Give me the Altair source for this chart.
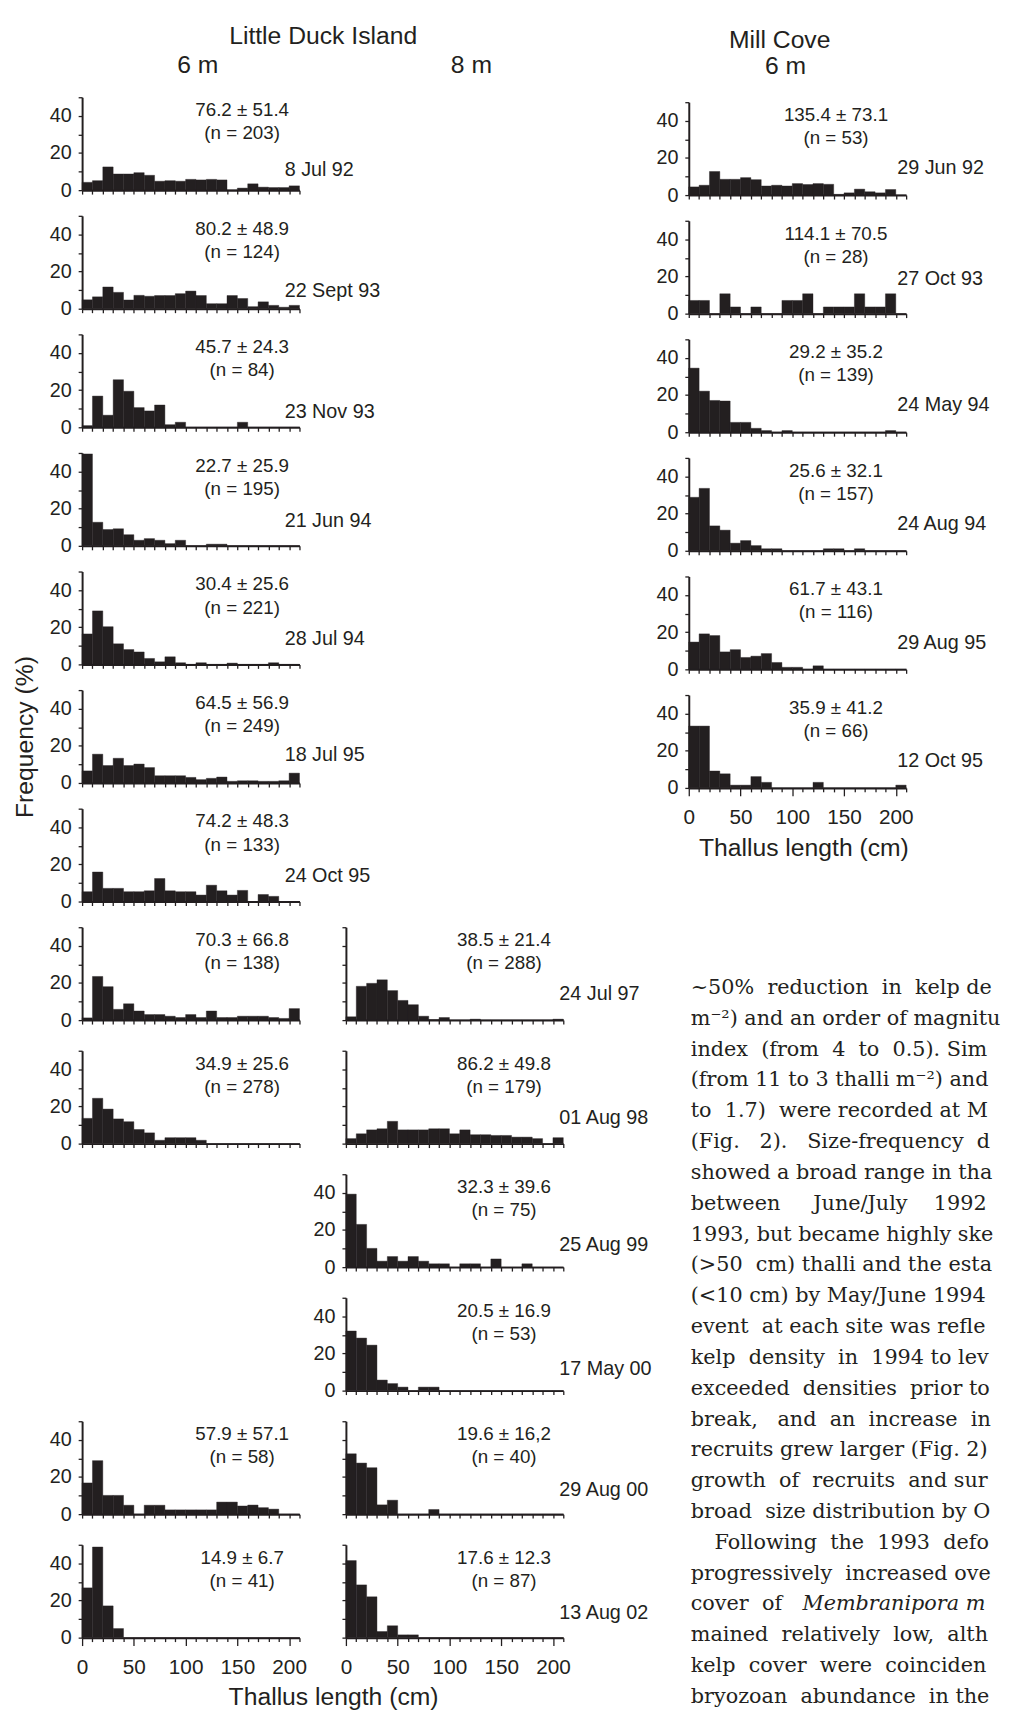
import altair as alt
import pandas as pd

INK = "#231f20"
SANS = "Liberation Sans"
SERIF = "DejaVu Serif"

# ---------------- data ----------------
bin_starts = list(range(0, 210, 10))            # 10-cm size classes
x_tick_values = list(range(0, 211, 10))
y_tick_values = [0, 10, 20, 30, 40, 50]

row_dates = ["8 Jul 92", "22 Sept 93", "23 Nov 93", "21 Jun 94", "28 Jul 94",
             "18 Jul 95", "24 Oct 95", "24 Jul 97", "01 Aug 98", "25 Aug 99",
             "17 May 00", "29 Aug 00", "13 Aug 02"]

# Little Duck Island 6 m (rows 1-9, 12, 13)
ldi6_rows = [0, 1, 2, 3, 4, 5, 6, 7, 8, 11, 12]
ldi6_stats = ["76.2 ± 51.4", "80.2 ± 48.9", "45.7 ± 24.3", "22.7 ± 25.9", "30.4 ± 25.6",
              "64.5 ± 56.9", "74.2 ± 48.3", "70.3 ± 66.8", "34.9 ± 25.6", "57.9 ± 57.1",
              "14.9 ± 6.7"]
ldi6_n = [203, 124, 84, 195, 221, 249, 133, 138, 278, 58, 41]
ldi6_jul92 = [4.2, 5.1, 12.5, 8.7, 8.7, 9.4, 8.0, 4.8, 5.1, 4.8, 5.8, 5.5, 5.8, 5.5, 0.2, 1.1, 3.4, 1.6, 1.4, 1.4, 2.3]
ldi6_sep93 = [4.8, 6.4, 11.7, 8.8, 4.7, 7.2, 6.7, 7.1, 7.1, 8.1, 9.5, 7.1, 2.7, 2.7, 7.1, 5.5, 1.1, 3.7, 1.8, 0.8, 1.8]
ldi6_nov93 = [0.9, 16.8, 6.5, 25.6, 19.4, 10.6, 8.8, 12.0, 1.4, 2.7, 0, 0, 0, 0, 0, 2.7, 0, 0, 0, 0, 0]
ldi6_jun94 = [49.5, 12.7, 8.8, 9.2, 6.0, 3.0, 3.9, 3.0, 1.2, 3.0, 0, 0, 0.9, 0.9, 0, 0, 0, 0, 0, 0, 0]
ldi6_jul94 = [16.4, 28.8, 20.3, 11.1, 8.0, 6.7, 3.2, 1.4, 4.1, 0.9, 0, 0.9, 0, 0, 0.7, 0, 0, 0, 0.9, 0, 0]
ldi6_jul95 = [6.5, 15.5, 9.4, 13.3, 9.4, 10.2, 8.3, 3.9, 3.9, 3.9, 3.0, 1.8, 2.5, 3.2, 0.9, 1.2, 1.2, 0.9, 0.9, 1.2, 5.3]
ldi6_oct95 = [5.3, 15.9, 7.1, 7.1, 5.3, 5.3, 5.8, 12.4, 5.8, 5.3, 5.3, 3.5, 8.8, 5.8, 3.5, 6.0, 0, 3.8, 2.8, 0, 0]
ldi6_jul97 = [1.2, 23.5, 18.0, 5.8, 8.8, 4.9, 3.0, 3.0, 2.1, 1.4, 3.0, 1.4, 4.9, 1.4, 1.4, 2.1, 2.1, 2.1, 1.4, 0.9, 6.2]
ldi6_aug98 = [13.6, 24.4, 18.6, 13.3, 11.8, 7.6, 5.8, 1.8, 3.2, 3.2, 3.2, 1.8, 0, 0, 0, 0, 0, 0, 0, 0, 0]
ldi6_aug00 = [16.8, 28.8, 10.1, 10.1, 4.8, 0, 4.8, 4.8, 2.3, 2.3, 2.3, 2.3, 2.3, 6.5, 6.5, 4.4, 4.9, 3.5, 2.7, 0, 0]
ldi6_aug02 = [26.8, 48.8, 17.1, 4.9, 0, 0, 0, 0, 0, 0, 0, 0, 0, 0, 0, 0, 0, 0, 0, 0, 0]
ldi6_freq = [ldi6_jul92, ldi6_sep93, ldi6_nov93, ldi6_jun94, ldi6_jul94, ldi6_jul95,
             ldi6_oct95, ldi6_jul97, ldi6_aug98, ldi6_aug00, ldi6_aug02]

# Little Duck Island 8 m (rows 8-13)
ldi8_rows = [7, 8, 9, 10, 11, 12]
ldi8_stats = ["38.5 ± 21.4", "86.2 ± 49.8", "32.3 ± 39.6", "20.5 ± 16.9", "19.6 ± 16,2", "17.6 ± 12.3"]
ldi8_n = [288, 179, 75, 53, 40, 87]
ldi8_jul97 = [1.8, 18.2, 19.8, 21.7, 15.9, 10.6, 8.3, 2.1, 0.3, 1.4, 0, 0, 0.5, 0, 0, 0, 0, 0, 0, 0, 0.5]
ldi8_aug98 = [2.7, 5.3, 7.4, 8.0, 12.0, 7.4, 7.4, 7.4, 8.0, 8.0, 5.3, 7.4, 4.8, 4.8, 4.4, 4.4, 3.5, 3.5, 2.7, 0, 3.2]
ldi8_aug99 = [39.3, 23.0, 10.1, 3.2, 5.7, 3.2, 5.7, 3.2, 1.8, 1.8, 0, 1.8, 1.8, 0, 4.4, 0, 0, 1.8, 0, 0, 0]
ldi8_may00 = [32.1, 28.3, 24.5, 5.7, 3.8, 1.9, 0, 1.9, 1.9, 0, 0, 0, 0, 0, 0, 0, 0, 0, 0, 0, 0]
ldi8_aug00 = [32.5, 27.5, 25.0, 5.0, 7.5, 0, 0, 0, 2.5, 0, 0, 0, 0, 0, 0, 0, 0, 0, 0, 0, 0]
ldi8_aug02 = [41.5, 28.4, 22.0, 3.3, 6.4, 1.5, 1.5, 0, 0, 0, 0, 0, 0, 0, 0, 0, 0, 0, 0, 0, 0]
ldi8_freq = [ldi8_jul97, ldi8_aug98, ldi8_aug99, ldi8_may00, ldi8_aug00, ldi8_aug02]

# Mill Cove 6 m
mc_dates = ["29 Jun 92", "27 Oct 93", "24 May 94", "24 Aug 94", "29 Aug 95", "12 Oct 95"]
mc_stats = ["135.4 ± 73.1", "114.1 ± 70.5", "29.2 ± 35.2", "25.6 ± 32.1", "61.7 ± 43.1", "35.9 ± 41.2"]
mc_n = [53, 28, 139, 157, 116, 66]
mc_jun92 = [4.4, 5.3, 12.7, 8.5, 8.5, 9.4, 8.3, 4.9, 5.3, 4.9, 6.2, 5.7, 6.2, 5.8, 0.4, 1.2, 3.2, 1.8, 1.2, 3.0, 0]
mc_oct93 = [7.1, 7.1, 0, 10.7, 3.6, 0, 3.6, 0, 0, 7.1, 7.1, 10.7, 0, 3.6, 3.6, 3.6, 10.7, 3.6, 3.6, 10.7, 0]
mc_may94 = [34.5, 22.1, 17.1, 16.8, 5.3, 5.3, 2.1, 0.9, 0, 0.9, 0, 0, 0, 0, 0, 0, 0, 0, 0, 0.9, 0]
mc_aug94 = [28.8, 33.6, 13.4, 11.1, 4.1, 5.5, 2.8, 1.1, 1.1, 0, 0, 0, 0, 1.1, 1.1, 0, 1.1, 0, 0, 0, 0]
mc_aug95 = [14.7, 19.1, 18.2, 9.4, 10.6, 6.4, 7.1, 8.5, 3.7, 1.1, 1.1, 0, 1.9, 0, 0, 0, 0, 0, 0, 0, 0]
mc_oct95 = [33.3, 33.3, 9.1, 7.6, 1.5, 1.5, 6.1, 3.0, 0, 0, 0, 0, 3.0, 0, 0, 0, 0, 0, 0, 0, 1.5]
mc_freq = [mc_jun92, mc_oct93, mc_may94, mc_aug94, mc_aug95, mc_oct95]

# Column headings / axis titles
site_ldi = "Little Duck Island"
site_mc = "Mill Cove"
depth_6 = "6 m"
depth_8 = "8 m"
x_title = "Thallus length (cm)"
y_title = "Frequency (%)"

# Running text at the lower right (cut off by the page edge)
body_lines = [
    "~50% reduction in kelp de",
    "m\u207b\u00b2) and an order of magnitu",
    "index (from 4 to 0.5). Sim",
    "(from 11 to 3 thalli m\u207b\u00b2) and",
    "to 1.7) were recorded at M",
    "(Fig. 2). Size-frequency d",
    "showed a broad range in tha",
    "between June/July 1992",
    "1993, but became highly ske",
    "(>50 cm) thalli and the esta",
    "(<10 cm) by May/June 1994",
    "event at each site was refle",
    "kelp density in 1994 to lev",
    "exceeded densities prior to",
    "break, and an increase in",
    "recruits grew larger (Fig. 2)",
    "growth of recruits and sur",
    "broad size distribution by O",
    "Following the 1993 defo",
    "progressively increased ove",
    "cover of",
    "mained relatively low, alth",
    "kelp cover were coinciden",
    "bryozoan abundance in the",
]
indented_line = 18
italic_line = 20
italic_text = "Membranipora m"

# ---------------- layout constants ----------------
W, H = 220, 94
HEAD_H = 78.3
COL_W = [220, 47, 220, 126.7, 220]
GAPS = [25.2] * 6 + [26] + [30.5] * 5     # gap after each of the 13 rows
MC_SHIFT = 5                                # Mill Cove panels sit slightly lower
TEXT_W = 312
LINE0, LINE_STEP = 181.5, 31.2
BODY_SIZE = 21
JUSTIFY_W = 302                             # justified measure visible before page edge
# height (px above the zero line) of the date label in each panel
ldi6_date_lift = [20, 18, 15, 25, 26, 28, 26]
ldi8_date_lift = [26, 26, 22, 22, 24, 25]
mc_date_lift = [27, 35, 27, 27, 27, 27]

# approximate advance widths (em) of DejaVu Serif, used to justify the lines
_EM = {" ": 0.318, "a": 0.596, "b": 0.640, "c": 0.560, "d": 0.640, "e": 0.592,
       "f": 0.370, "g": 0.640, "h": 0.644, "i": 0.320, "j": 0.320, "k": 0.605,
       "l": 0.320, "m": 0.948, "n": 0.644, "o": 0.602, "p": 0.640, "q": 0.640,
       "r": 0.478, "s": 0.513, "t": 0.402, "u": 0.644, "v": 0.565, "w": 0.856,
       "x": 0.564, "y": 0.565, "z": 0.527, "(": 0.390, ")": 0.390, ".": 0.318,
       ",": 0.318, "%": 0.950, "~": 0.838, "-": 0.338, "/": 0.337, "<": 0.838,
       ">": 0.838, "\u207b": 0.42, "\u00b2": 0.40, "F": 0.703, "S": 0.685,
       "J": 0.472, "M": 0.995, "O": 0.787}


def justify(s, target, size):
    words = s.split(" ")
    gaps = len(words) - 1
    if gaps <= 0:
        return s
    width = sum(_EM.get(ch, 0.636 if ch.isdigit() else 0.6) for ch in s) * size
    n = max(0, int(round((target - width) / (0.318 * size))))
    out = words[0]
    for gi, w in enumerate(words[1:]):
        k = n // gaps + (1 if gi < n % gaps else 0)
        out += " " + "\u00a0" * k + w
    return out


def label(text, x, y, align="center", size=19, font=SANS, baseline="middle"):
    return alt.Chart(pd.DataFrame({"t": [text]})).mark_text(
        align=align, baseline=baseline, font=font, fontSize=size, color=INK
    ).encode(x=alt.value(x), y=alt.value(y), text="t:N")


def hist_panel(freqs, stat, n, date=None, stat_x=162, date_x=205, date_above=25,
               ylabels=True, xlabels=False, ytitle=None, xtitle=None, xtitle_x=None,
               shift=0):
    df = pd.DataFrame({"start": bin_starts,
                       "end": [b + 10 for b in bin_starts],
                       "freq": freqs})
    xax = dict(values=x_tick_values, grid=False, domainColor=INK, domainWidth=2,
               tickColor=INK, tickWidth=1.3, labelFlush=False, labelOverlap=False,
               title=None, offset=shift)
    if xlabels:
        xax.update(labelExpr="datum.value % 50 == 0 ? datum.label : ''",
                   tickSize={"condition": {"test": "datum.value % 50 == 0", "value": 8},
                             "value": 4},
                   labelFont=SANS, labelFontSize=21, labelColor=INK, labelPadding=11)
    else:
        xax.update(labels=False, tickSize=4)
    if xtitle:
        xax.update(title=xtitle, titleX=xtitle_x, titleAlign="center", titleFont=SANS,
                   titleFontSize=25, titleFontWeight="normal", titleColor=INK,
                   titlePadding=8)
    yax = dict(values=y_tick_values, grid=False, domainColor=INK, domainWidth=2,
               tickColor=INK, tickWidth=1.3, tickSize=4, labelPadding=7,
               labelOverlap=False, labelFlush=False, title=None)
    if ylabels:
        yax.update(labelExpr="datum.value % 20 == 0 ? datum.label : ''",
                   labelFont=SANS, labelFontSize=20, labelColor=INK)
    else:
        yax.update(labels=False)
    if ytitle:
        yax.update(title=ytitle, titleFont=SANS, titleFontSize=25,
                   titleFontWeight="normal", titleColor=INK, titlePadding=12)

    bars = alt.Chart(df).mark_rect(color=INK, stroke=INK, strokeWidth=0.4).encode(
        x=alt.X("start:Q", scale=alt.Scale(domain=[0, 210], nice=False),
                axis=alt.Axis(**xax)),
        x2="end:Q",
        y=alt.Y("freq:Q",
                scale=alt.Scale(domain=[0, 50], nice=False, range=[H + shift, shift]),
                axis=alt.Axis(**yax)),
        y2=alt.datum(0),
    )
    layers = [bars,
              label(stat, stat_x, 13 + shift),
              label(f"(n = {n})", stat_x, 36.5 + shift)]
    if date:
        layers.append(label(date, date_x, H + shift - date_above, align="left", size=20))
    return alt.layer(*layers).properties(width=W, height=H)


def spacer(w, h, texts=()):
    base = alt.Chart(pd.DataFrame({"v": [0]})).mark_point(opacity=0, size=1).encode(
        x=alt.value(0), y=alt.value(0))
    layers = [base] + [label(t, x, y, size=25, baseline="alphabetic") for (t, x, y) in texts]
    return alt.layer(*layers).properties(width=w, height=h)


# ---------------- panels ----------------
p6 = {}
for k, r in enumerate(ldi6_rows):
    p6[r] = hist_panel(
        ldi6_freq[k], ldi6_stats[k], ldi6_n[k],
        date=row_dates[r] if r < 7 else None,
        date_above=ldi6_date_lift[r] if r < 7 else 25,
        stat_x=162, date_x=205,
        ytitle=y_title if r == 5 else None,
        xlabels=(r == 12),
        xtitle=x_title if r == 12 else None,
        xtitle_x=254,
    )

p8 = {}
for k, r in enumerate(ldi8_rows):
    p8[r] = hist_panel(
        ldi8_freq[k], ldi8_stats[k], ldi8_n[k], date=row_dates[r],
        date_above=ldi8_date_lift[k],
        stat_x=160, date_x=216,
        ylabels=(r in (9, 10)),
        xlabels=(r == 12),
    )

pm = {}
for k in range(6):
    pm[k] = hist_panel(
        mc_freq[k], mc_stats[k], mc_n[k], date=mc_dates[k],
        stat_x=149, date_x=211, date_above=mc_date_lift[k],
        xlabels=(k == 5),
        xtitle=x_title if k == 5 else None,
        xtitle_x=116,
        shift=MC_SHIFT,
    )

# body text view (justified to the visible measure)
ytext = alt.Scale(domain=[0, len(body_lines) - 1],
                  range=[LINE0, LINE0 + (len(body_lines) - 1) * LINE_STEP])
plain_idx = [i for i in range(len(body_lines)) if i not in (indented_line, italic_line)]
plain_df = pd.DataFrame({"i": plain_idx,
                         "t": [justify(body_lines[i], JUSTIFY_W, BODY_SIZE) for i in plain_idx]})
text_plain = alt.Chart(plain_df).mark_text(
    align="left", baseline="middle", font=SERIF, fontSize=BODY_SIZE, color=INK
).encode(x=alt.value(2), y=alt.Y("i:Q", scale=ytext, axis=None), text="t:N")
text_indent = alt.Chart(pd.DataFrame({
    "i": [indented_line],
    "t": [justify(body_lines[indented_line], JUSTIFY_W - 24, BODY_SIZE)]})).mark_text(
    align="left", baseline="middle", font=SERIF, fontSize=BODY_SIZE, color=INK
).encode(x=alt.value(26), y=alt.Y("i:Q", scale=ytext, axis=None), text="t:N")
text_cover = alt.Chart(pd.DataFrame({
    "i": [italic_line], "t": [body_lines[italic_line].replace(" ", " \u00a0")]})).mark_text(
    align="left", baseline="middle", font=SERIF, fontSize=BODY_SIZE, color=INK
).encode(x=alt.value(2), y=alt.Y("i:Q", scale=ytext, axis=None), text="t:N")
text_italic = alt.Chart(pd.DataFrame({"i": [italic_line], "t": [italic_text]})).mark_text(
    align="left", baseline="middle", font=SERIF, fontSize=BODY_SIZE, fontStyle="italic",
    color=INK
).encode(x=alt.value(115), y=alt.Y("i:Q", scale=ytext, axis=None), text="t:N")
text_view = alt.layer(text_plain, text_indent, text_cover, text_italic).properties(
    width=TEXT_W, height=H)

# ---------------- grid (single level, flush) ----------------
cells = [
    spacer(COL_W[0], HEAD_H, texts=[(site_ldi, 244, 25), (depth_6, 117, 54)]),
    spacer(COL_W[1], HEAD_H),
    spacer(COL_W[2], HEAD_H, texts=[(depth_8, 127, 54)]),
    spacer(COL_W[3], HEAD_H),
    spacer(COL_W[4], HEAD_H, texts=[(site_mc, 92, 28.7), (depth_6, 98, 55.3)]),
]
for r in range(13):
    cells.append(p6[r] if r in p6 else spacer(COL_W[0], H))
    cells.append(spacer(COL_W[1], H))
    cells.append(p8[r] if r in p8 else spacer(COL_W[2], H))
    cells.append(spacer(COL_W[3], H))
    if r < 6:
        cells.append(pm[r])
    elif r == 6:
        cells.append(text_view)
    else:
        cells.append(spacer(COL_W[4], H))
    if r < 12:
        cells.extend([spacer(w, GAPS[r]) for w in COL_W])

chart = alt.concat(*cells, columns=5, spacing=0, bounds="flush", align="each").properties(
    padding={"left": 4, "top": 0, "right": 0, "bottom": 0}
).configure(background="white").configure_view(stroke=None)

chart.save("out.html", embed_options={"renderer": "svg", "actions": False})
